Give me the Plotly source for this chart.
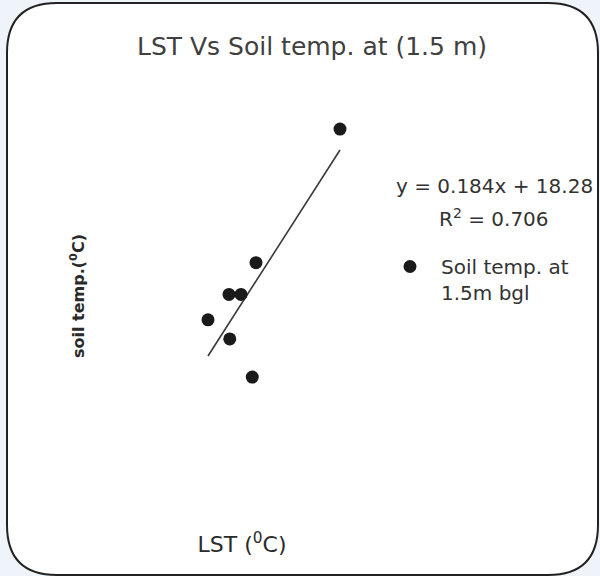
import plotly.graph_objects as go

# Data
lst = [45.6, 34.4, 30.8, 32.4, 28.0, 30.9, 33.9]
soil_temp = [27.0, 24.9, 24.4, 24.4, 24.0, 23.7, 23.1]
slope = 0.184
intercept = 18.28
r_squared = 0.706
series_name = "Soil temp. at<br>1.5m bgl"
chart_title = "LST Vs Soil temp. at (1.5 m)"
x_title = "LST (<sup>0</sup>C)"
y_title = "<b>soil temp.(<sup>0</sup>C)</b>"

FONT = "DejaVu Sans"

x_lo, x_hi = min(lst), max(lst)
trend_x = [x_lo, x_hi]
trend_y = [slope * v + intercept for v in trend_x]

fig = go.Figure()
fig.add_trace(go.Scatter(
    x=trend_x, y=trend_y, mode="lines",
    line=dict(color="#3a3a3a", width=1.6),
    showlegend=False, hoverinfo="skip"))
fig.add_trace(go.Scatter(
    x=lst, y=soil_temp, mode="markers", name=series_name,
    marker=dict(color="#1a1a1a", size=13, line=dict(width=0))))

# geometry helpers (paper coords)
L, R, T, B = 110, 226, 96, 80
W = 600 - L - R
H = 576 - T - B
def px(xp):
    return (xp - L) / W
def py(yp):
    return (576 - B - yp) / H

x0, x1, y0, y1 = px(7), px(598), py(575), py(3)
rx, ry = 50 / W, 50 / H
path = (f"M {x0+rx},{y1} L {x1-rx},{y1} Q {x1},{y1} {x1},{y1-ry} "
        f"L {x1},{y0+ry} Q {x1},{y0} {x1-rx},{y0} "
        f"L {x0+rx},{y0} Q {x0},{y0} {x0},{y0+ry} "
        f"L {x0},{y1-ry} Q {x0},{y1} {x0+rx},{y1} Z")

fig.update_layout(
    width=600, height=576,
    margin=dict(l=L, r=R, t=T, b=B),
    paper_bgcolor="#eef4fa",
    plot_bgcolor="rgba(0,0,0,0)",
    font=dict(family=FONT, color="#333333"),
    title=dict(text=chart_title, x=312 / 600, xanchor="center",
               y=1 - 46 / 576, yanchor="middle",
               font=dict(family=FONT, size=25, color="#404040")),
    xaxis=dict(range=[28 - 98 / 7.5, 28 + 166 / 7.5], visible=True,
               showgrid=False, zeroline=False, showline=False,
               showticklabels=False, ticks="",
               title=dict(text=x_title, standoff=40,
                          font=dict(family=FONT, size=22, color="#2a2a2a"))),
    yaxis=dict(range=[27.520 - 400 / 63.6, 27.520], showgrid=False,
               zeroline=False, showline=False, showticklabels=False,
               ticks="",
               title=dict(text=y_title, standoff=20,
                          font=dict(family=FONT, size=16, color="#2a2a2a"))),
    showlegend=True,
    legend=dict(x=px(379), y=py(247), xanchor="left", yanchor="top",
                valign="top", itemwidth=52,
                bgcolor="rgba(0,0,0,0)",
                font=dict(family=FONT, size=20, color="#333333")),
    shapes=[dict(type="path", xref="paper", yref="paper", path=path,
                 fillcolor="white", line=dict(color="#222222", width=2),
                 layer="below")],
    annotations=[
        dict(xref="paper", yref="paper", x=px(494), y=py(186),
             text=f"y = {slope}x + {intercept}", showarrow=False,
             xanchor="center", yanchor="middle",
             font=dict(family=FONT, size=20, color="#333333")),
        dict(xref="paper", yref="paper", x=px(494), y=py(218),
             text=f"R<sup>2</sup> = {r_squared}", showarrow=False,
             xanchor="center", yanchor="middle",
             font=dict(family=FONT, size=20, color="#333333")),
    ],
)

fig.write_html("out.html", config={"displayModeBar": False},
               post_script="document.body.style.margin='0';")
